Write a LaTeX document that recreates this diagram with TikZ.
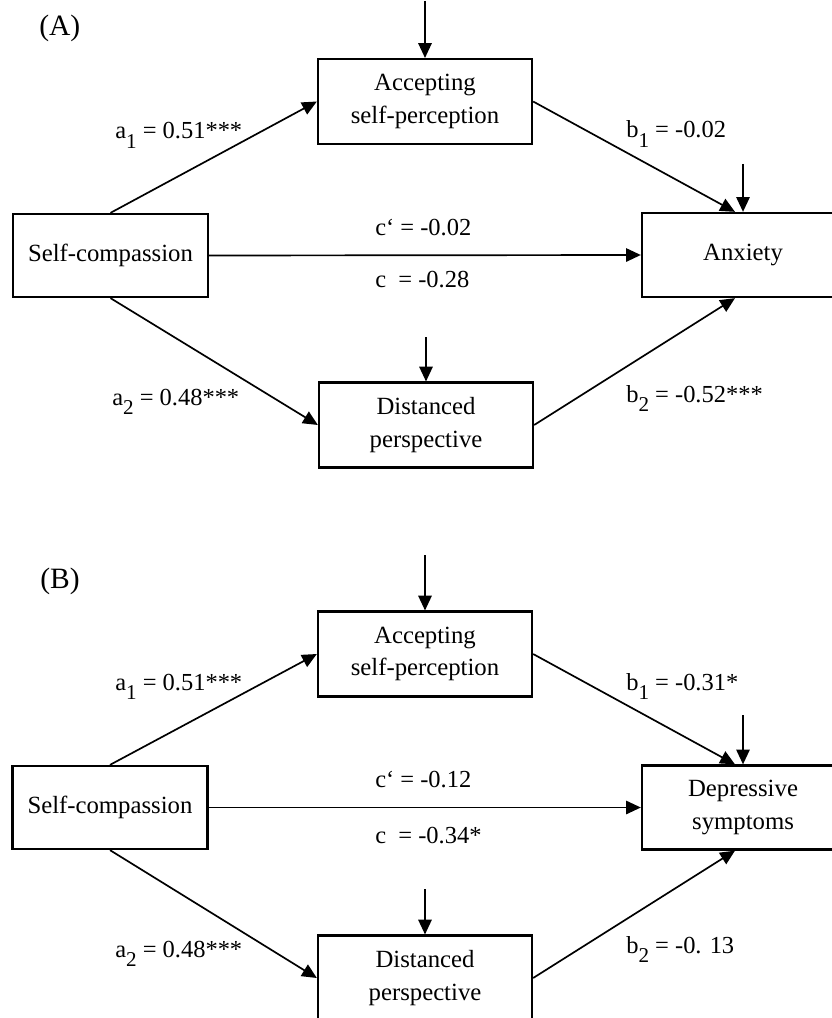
\documentclass[tikz,border=0pt]{standalone}
\usepackage{fontspec}
\setmainfont{Liberation Serif}
\usetikzlibrary{positioning}
\usetikzlibrary{arrows.meta}
\newcommand{\lowsub}[1]{\raisebox{-0.4em}{\fontsize{15}{15}\selectfont #1}}
\tikzset{
    varbox/.style = {rectangle, draw=black, line width=1.6pt, align=center, inner sep=0pt, font=\fontsize{17.6}{23}\selectfont},
    medbox/.style = {varbox, minimum width=5.35cm, minimum height=2.12cm},
    xbox/.style = {varbox, minimum width=4.875cm, minimum height=2.075cm},
    ybox/.style = {varbox, minimum width=5.05cm, minimum height=2.1cm},
    coef/.style = {anchor=base west, inner sep=0pt, font=\fontsize{17.4}{23}\selectfont},
    panel/.style = {anchor=base west, inner sep=0pt, font=\fontsize{21}{25}\selectfont},
    edgen/.style = {-{Triangle[length=10.5pt,width=9.5pt]}, line width=1.2pt}
}
\begin{document}
\begin{tikzpicture}[x=0.025cm,y=-0.025cm]
\useasboundingbox (0,0) rectangle (831,1018);
% (A) anxiety
\node[panel] at (39,36) (titA) {(A)};
\node[medbox] at (425,101.5) (accA) {Accepting\\self-perception};
\node[xbox] at (110.5,255.5) (scA) {Self-compassion};
\node[ybox] at (743,255) (anxA) {Anxiety};
\node[medbox] at (426,425) (distA) {Distanced\\perspective};
\coordinate[above=1.425cm of accA] (eaccA);
\coordinate[above=1.2cm of anxA] (eanxA);
\coordinate[above=1.1cm of distA] (edistA);
%
\node[coef] at (115,139) (a1A) {a\lowsub{1} = 0.51***};
\node[coef] at (626,138) (b1A) {b\lowsub{1} = -0.02};
\node[coef] at (375,235) (cpA) {c‘ = -0.02};
\node[coef] at (375,287) (cA) {c\ \ = -0.28};
\node[coef] at (112,405) (a2A) {a\lowsub{2} = 0.48***};
\node[coef] at (626,402) (b2A) {b\lowsub{2} = -0.52***};
%
\draw[edgen] (scA.north) -- (accA.west);
\draw[edgen] (accA.east) -- ([xshift=-0.2cm]anxA.north);
\draw[edgen] (scA.east) -- (anxA.west);
\draw[edgen] (scA.south) -- (distA.west);
\draw[edgen] (distA.east) -- ([xshift=-0.2cm]anxA.south);
\draw[edgen] (eaccA) -- (accA.north);
\draw[edgen] (eanxA) -- (anxA.north);
\draw[edgen] (edistA) -- (distA.north);
% (B) depressive symptoms
\node[panel] at (40,588) (titB) {(B)};
\node[medbox] at (425,654) (accB) {Accepting\\self-perception};
\node[xbox] at (110,807.5) (scB) {Self-compassion};
\node[ybox] at (743,807.5) (depB) {Depressive\\symptoms};
\node[medbox] at (425,978) (distB) {Distanced\\perspective};
\coordinate[above=1.375cm of accB] (eaccB);
\coordinate[above=1.225cm of depB] (edepB);
\coordinate[above=1.125cm of distB] (edistB);
%
\node[coef] at (115,690) (a1B) {a\lowsub{1} = 0.51***};
\node[coef] at (626,690) (b1B) {b\lowsub{1} = -0.31*};
\node[coef] at (375,787) (cpB) {c‘ = -0.12};
\node[coef] at (375,843) (cB) {c\ \ = -0.34*};
\node[coef] at (115,957) (a2B) {a\lowsub{2} = 0.48***};
\node[coef] at (626,953) (b2B) {b\lowsub{2} = -0. 13};
%
\draw[edgen] (scB.north) -- (accB.west);
\draw[edgen] (accB.east) -- ([xshift=-0.2cm]depB.north);
\draw[edgen] (scB.east) -- (depB.west);
\draw[edgen] (scB.south) -- (distB.west);
\draw[edgen] (distB.east) -- ([xshift=-0.2cm]depB.south);
\draw[edgen] (eaccB) -- (accB.north);
\draw[edgen] (edepB) -- (depB.north);
\draw[edgen] (edistB) -- (distB.north);
\end{tikzpicture}
\end{document}
